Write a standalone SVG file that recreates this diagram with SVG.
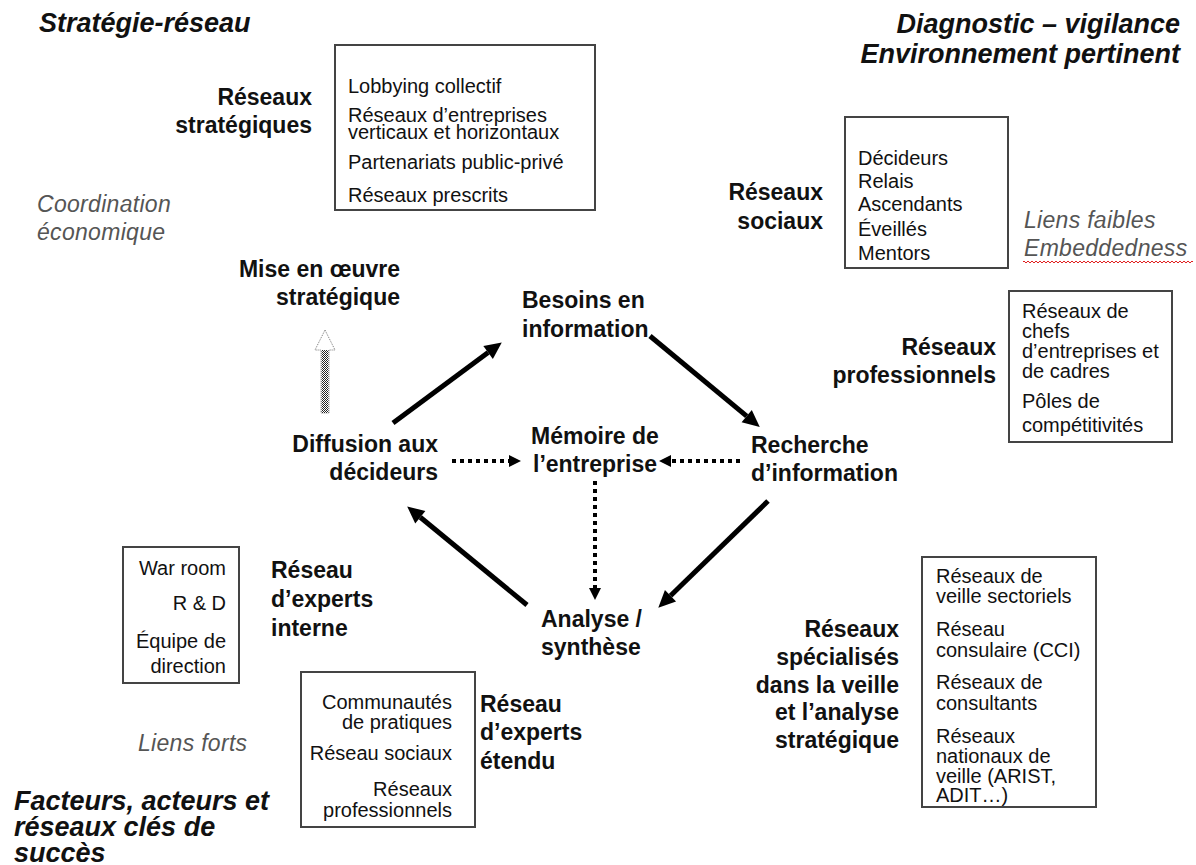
<svg xmlns="http://www.w3.org/2000/svg" width="1196" height="865" viewBox="0 0 1196 865">
<style>
text{font-family:"Liberation Sans",Arial,sans-serif;fill:#111}
.title{font-size:27px;font-weight:bold;font-style:italic}
.lbl{font-size:23px;font-weight:bold}
.box{fill:#fff;stroke:#444;stroke-width:2}
.bt{font-size:20px}
.gi{font-size:23px;font-style:italic;fill:#555;letter-spacing:0.3px}
.e{text-anchor:end}
.m{text-anchor:middle}
.solid{stroke:#000;stroke-width:5;fill:none;marker-end:url(#ah)}
.dot{stroke:#000;stroke-width:4;stroke-dasharray:4 4;fill:none;marker-end:url(#ahs)}
</style>
<defs>
<marker id="ah" markerUnits="userSpaceOnUse" markerWidth="20" markerHeight="18" refX="0" refY="8" orient="auto" overflow="visible">
<path d="M0,0 L17,8 L0,16 z" fill="#000"/>
</marker>
<marker id="ahs" markerUnits="userSpaceOnUse" markerWidth="14" markerHeight="14" refX="0" refY="6" orient="auto" overflow="visible">
<path d="M0,0 L12,6 L0,12 z" fill="#000"/>
</marker>
<pattern id="chk" width="2" height="2" patternUnits="userSpaceOnUse">
<rect width="2" height="2" fill="#fff"/>
<rect width="1" height="1" fill="#222"/>
<rect x="1" y="1" width="1" height="1" fill="#222"/>
</pattern>
<pattern id="wave" width="4" height="4" patternUnits="userSpaceOnUse">
<path d="M0,1 L2,3 L4,1" stroke="#e02020" stroke-width="1" fill="none"/>
</pattern>
</defs>

<g id="titles">
<text class="title" x="39" y="32">Stratégie-réseau</text>
<text class="title e" x="1180" y="33">Diagnostic – vigilance</text>
<text class="title e" x="1180" y="63">Environnement pertinent</text>
<text class="title" x="14" y="810">Facteurs, acteurs et</text>
<text class="title" x="14" y="836">réseaux clés de</text>
<text class="title" x="14" y="862">succès</text>
</g>

<g id="annotations">
<text class="gi" x="37" y="212">Coordination</text>
<text class="gi" x="37" y="240">économique</text>
<text class="gi" x="1024" y="228">Liens faibles</text>
<text class="gi" x="1024" y="256">Embeddedness</text>
<rect x="1023" y="261" width="170" height="4" fill="url(#wave)"/>
<text class="gi" x="138" y="751">Liens forts</text>
</g>

<g id="node-reseaux-strategiques">
<text class="lbl e" x="312" y="105">Réseaux</text>
<text class="lbl e" x="312" y="133">stratégiques</text>
<rect class="box" x="335" y="45" width="260" height="165"/>
<text class="bt" x="348" y="93">Lobbying collectif</text>
<text class="bt" x="348" y="122">Réseaux d’entreprises</text>
<text class="bt" x="348" y="139">verticaux et horizontaux</text>
<text class="bt" x="348" y="169">Partenariats public-privé</text>
<text class="bt" x="348" y="202">Réseaux prescrits</text>
</g>

<g id="node-reseaux-sociaux">
<text class="lbl e" x="823" y="200">Réseaux</text>
<text class="lbl e" x="823" y="229">sociaux</text>
<rect class="box" x="845" y="117" width="163" height="151"/>
<text class="bt" x="858" y="165">Décideurs</text>
<text class="bt" x="858" y="188">Relais</text>
<text class="bt" x="858" y="211">Ascendants</text>
<text class="bt" x="858" y="236">Éveillés</text>
<text class="bt" x="858" y="260">Mentors</text>
</g>

<g id="node-reseaux-professionnels">
<text class="lbl e" x="996" y="355">Réseaux</text>
<text class="lbl e" x="996" y="383">professionnels</text>
<rect class="box" x="1009" y="291" width="163" height="151"/>
<text class="bt" x="1022" y="318">Réseaux de</text>
<text class="bt" x="1022" y="338">chefs</text>
<text class="bt" x="1022" y="358">d’entreprises et</text>
<text class="bt" x="1022" y="378">de cadres</text>
<text class="bt" x="1022" y="408">Pôles de</text>
<text class="bt" x="1022" y="432">compétitivités</text>
</g>

<g id="node-reseaux-specialises">
<text class="lbl e" x="899" y="637">Réseaux</text>
<text class="lbl e" x="899" y="665">spécialisés</text>
<text class="lbl e" x="899" y="693">dans la veille</text>
<text class="lbl e" x="899" y="720">et l’analyse</text>
<text class="lbl e" x="899" y="748">stratégique</text>
<rect class="box" x="922" y="557" width="174" height="250"/>
<text class="bt" x="936" y="583">Réseaux de</text>
<text class="bt" x="936" y="603">veille sectoriels</text>
<text class="bt" x="936" y="636">Réseau</text>
<text class="bt" x="936" y="657">consulaire (CCI)</text>
<text class="bt" x="936" y="689">Réseaux de</text>
<text class="bt" x="936" y="710">consultants</text>
<text class="bt" x="936" y="743">Réseaux</text>
<text class="bt" x="936" y="763">nationaux de</text>
<text class="bt" x="936" y="783">veille (ARIST,</text>
<text class="bt" x="936" y="802">ADIT…)</text>
</g>

<g id="node-experts-interne">
<rect class="box" x="123" y="547" width="116" height="136"/>
<text class="bt e" x="226" y="575">War room</text>
<text class="bt e" x="226" y="610">R &amp; D</text>
<text class="bt e" x="226" y="648">Équipe de</text>
<text class="bt e" x="226" y="673">direction</text>
<text class="lbl" x="271" y="578">Réseau</text>
<text class="lbl" x="271" y="607">d’experts</text>
<text class="lbl" x="271" y="636">interne</text>
</g>

<g id="node-experts-etendu">
<rect class="box" x="301" y="672" width="174" height="155"/>
<text class="bt e" x="452" y="709">Communautés</text>
<text class="bt e" x="452" y="729">de pratiques</text>
<text class="bt e" x="452" y="760">Réseau sociaux</text>
<text class="bt e" x="452" y="796">Réseaux</text>
<text class="bt e" x="452" y="817">professionnels</text>
<text class="lbl" x="480" y="712">Réseau</text>
<text class="lbl" x="480" y="740">d’experts</text>
<text class="lbl" x="480" y="769">étendu</text>
</g>

<g id="node-mise-en-oeuvre">
<text class="lbl e" x="400" y="277">Mise en œuvre</text>
<text class="lbl e" x="400" y="305">stratégique</text>
</g>

<g id="node-besoins">
<text class="lbl" x="522" y="308">Besoins en</text>
<text class="lbl" x="522" y="337">information</text>
</g>

<g id="node-diffusion">
<text class="lbl e" x="438" y="452">Diffusion aux</text>
<text class="lbl e" x="438" y="480">décideurs</text>
</g>

<g id="node-memoire">
<text class="lbl m" x="595" y="444">Mémoire de</text>
<text class="lbl m" x="595" y="472">l’entreprise</text>
</g>

<g id="node-recherche">
<text class="lbl" x="751" y="453">Recherche</text>
<text class="lbl" x="751" y="481">d’information</text>
</g>

<g id="node-analyse">
<text class="lbl" x="541" y="627">Analyse /</text>
<text class="lbl" x="541" y="655">synthèse</text>
</g>

<g id="connectors">
<path class="solid" d="M393,423 L488.1,352.5"/>
<path class="solid" d="M650,336 L746.7,416.2"/>
<path class="solid" d="M768,501 L670.5,595.8"/>
<path class="solid" d="M527,605 L420.3,517.2"/>
<path class="dot" d="M452,461 L509,461"/>
<path class="dot" d="M740,461 L671,461"/>
<path class="dot" d="M595,481 L595,588"/>
<g id="hatched-arrow">
<polygon points="325,330 335,350 329,350 329,413 321,413 321,350 315,350" fill="#fff" stroke="#777" stroke-width="1" stroke-dasharray="1 1"/>
<rect x="321.5" y="350" width="7" height="63" fill="url(#chk)"/>
</g>
</g>
</svg>
